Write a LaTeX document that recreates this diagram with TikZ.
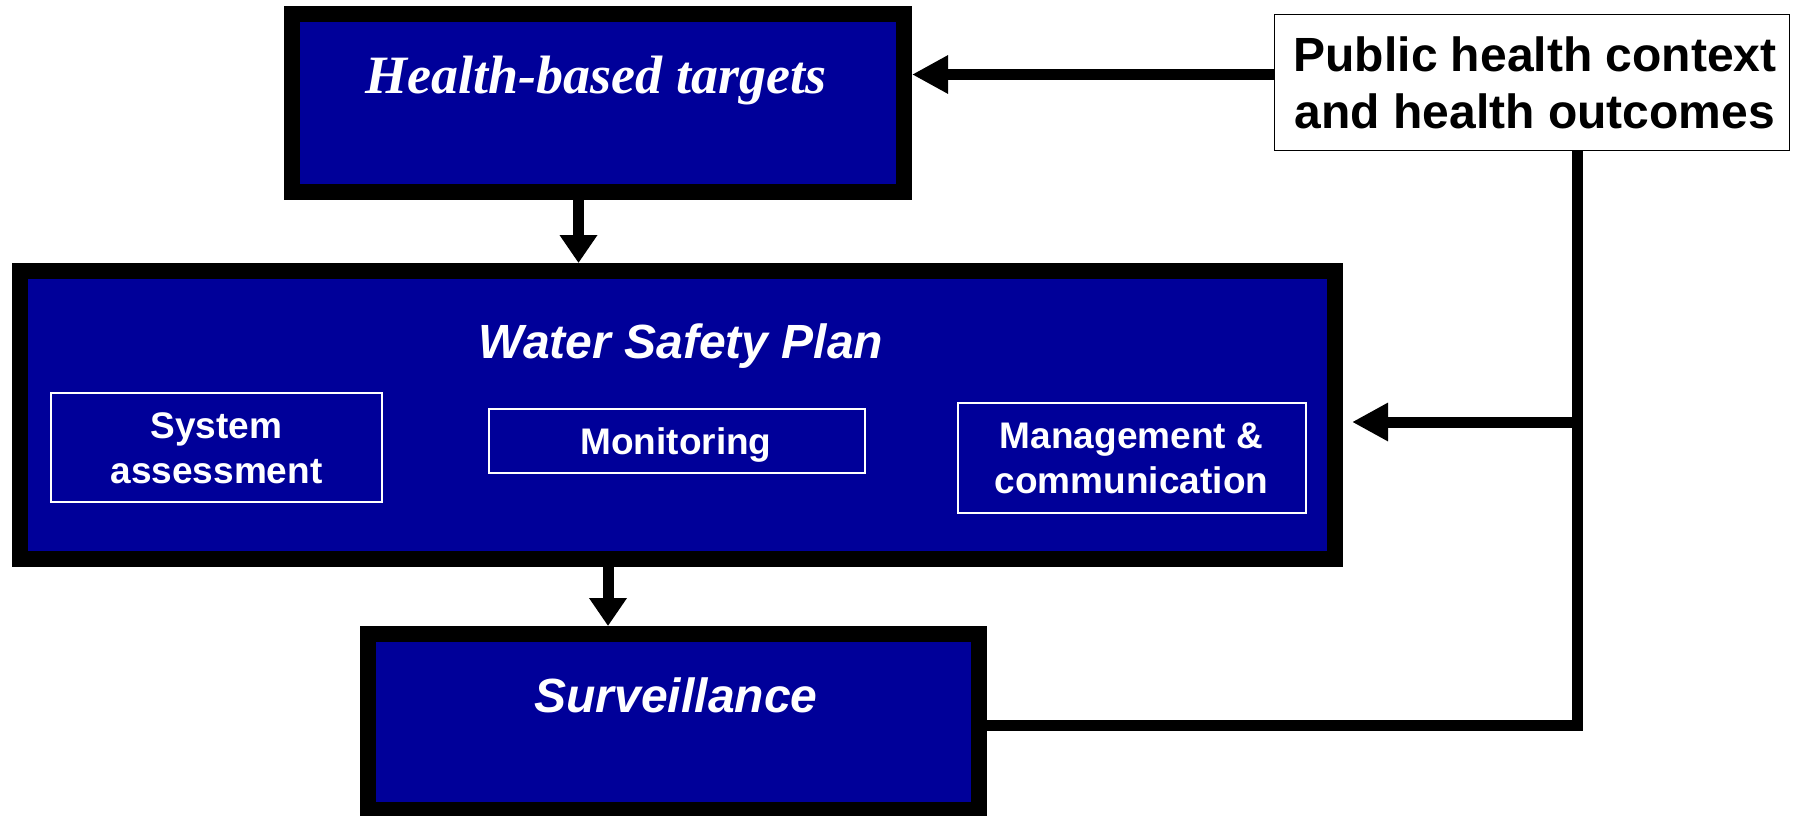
\documentclass[tikz,border=0pt]{standalone}
\usepackage{fontspec}
\setmainfont{Liberation Sans}
\newfontfamily\timesfont{Liberation Serif}
\usetikzlibrary{arrows.meta}
\definecolor{wsblue}{HTML}{000099}

\begin{document}
\begin{tikzpicture}[x=1pt,y=-1pt,
  mainbox/.style={rectangle, draw=black, line width=16pt, fill=wsblue, inner sep=0pt},
  subbox/.style={rectangle, draw=white, line width=1.8pt, inner sep=0pt},
  lbl/.style={anchor=base, inner sep=0pt, text=white,
    font=\fontsize{48}{56}\selectfont\bfseries\itshape},
  sublbl/.style={anchor=base, inner sep=0pt, text=white,
    font=\fontsize{37}{45}\selectfont\bfseries},
  publbl/.style={anchor=base, inner sep=0pt, text=black,
    font=\fontsize{48}{56}\selectfont\bfseries},
  conn/.style={line width=11pt},
  vtip/.style={-{Triangle[length=28pt,width=36pt]}},
  htip/.style={-{Triangle[length=36pt,width=36pt]}}]

\useasboundingbox (0,0) rectangle (1796,816);

% main blocks
\node[mainbox, minimum width=612pt, minimum height=178pt] (hbt) at (598,103) {};
\node[mainbox, minimum width=1315pt, minimum height=288pt] (wsp) at (677.5,415) {};
\node[mainbox, minimum width=611pt, minimum height=176pt] (surv) at (673.5,722) {};
\node[rectangle, draw=black, line width=1.5pt, fill=white, inner sep=0pt,
      minimum width=515pt, minimum height=136pt] (pub) at (1532,82.5) {};

% components of the water safety plan
\node[subbox, minimum width=331pt, minimum height=109pt] (sys) at (216.5,447.5) {};
\node[subbox, minimum width=376pt, minimum height=64pt] (mon) at (677,441) {};
\node[subbox, minimum width=348pt, minimum height=110pt] (mgt) at (1132,458) {};

% labels
\node[lbl, font=\timesfont\fontsize{54}{60}\selectfont\bfseries\itshape] (hbtT) at (596,93) {Health-based targets};
\node[lbl] (wspT) at (681,358) {Water Safety Plan};
\node[lbl] (survT) at (676,712) {Surveillance};
\node[publbl] (pubA) at (1535,72) {Public health context};
\node[publbl] (pubB) at (1535,128) {and health outcomes};
\node[sublbl] (sysA) at (216.5,438) {System};
\node[sublbl] (sysB) at (216.5,483) {assessment};
\node[sublbl] (monT) at (676,454) {Monitoring};
\node[sublbl] (mgtA) at (1131.5,448) {Management \&};
\node[sublbl] (mgtB) at (1131.5,493) {communication};

% connector routing points
\coordinate (hx) at (578.5,0);
\coordinate (sx) at (608,0);
\coordinate (ht) at (0,74.5);
\coordinate (bus) at (1577,422);
\coordinate (corner) at (1577,725);

% connectors
\draw[conn,vtip] (hbt.south -| hx) -- (wsp.north -| hx);
\draw[conn,vtip] (wsp.south -| sx) -- (surv.north -| sx);
\draw[conn,htip] (pub.west |- ht) -- (hbt.east |- ht);
\draw[conn] (pub.south -| corner) -- (corner) -- (surv.east |- corner);
\draw[conn,htip,shorten >=9pt] (bus) -- (wsp.east |- bus);
\end{tikzpicture}
\end{document}
